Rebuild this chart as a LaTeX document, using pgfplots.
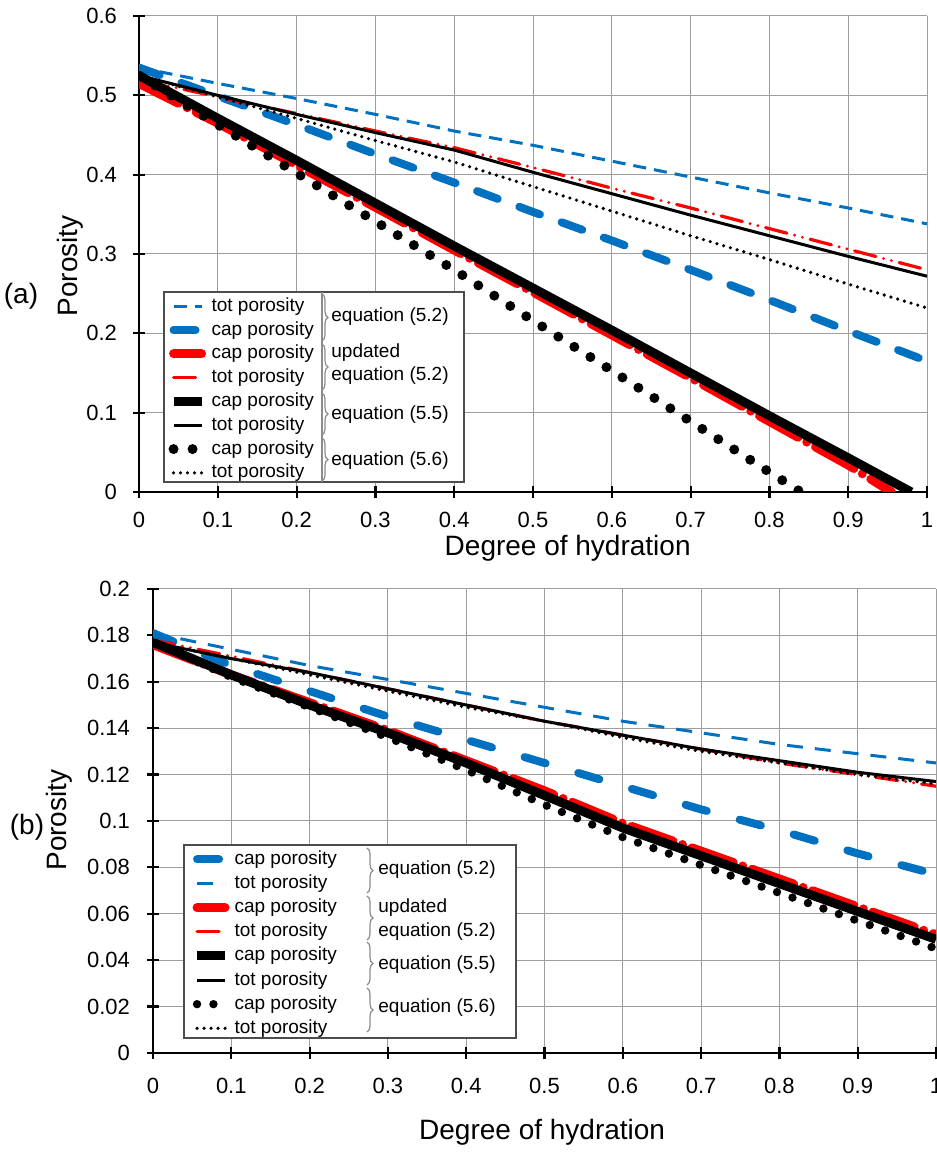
\documentclass[border=0pt]{standalone}
\usepackage{fontspec}
\setmainfont{Liberation Sans}
\usepackage{pgfplots}
\pgfplotsset{compat=1.18}
\usetikzlibrary{decorations.pathreplacing}
\definecolor{xblue}{RGB}{0,112,192}
\definecolor{xred}{RGB}{255,0,0}
\pgfplotsset{
 myaxis/.style={
  scale only axis, xmin=0, xmax=1, axis x line*=bottom, axis y line*=left,
  xtick={0,0.1,0.2,0.3,0.4,0.5,0.6,0.7,0.8,0.9,1},
  grid=major, grid style={line width=0.5pt, color=black!38},
  tick align=center, major tick length=6pt,
  tick style={black, line width=1.1pt},
  axis line style={line width=1.1pt},
  ticklabel style={font=\fontsize{11}{13}\selectfont},
  /pgf/number format/assume math mode=true,
  /pgf/number format/fixed, /pgf/number format/precision=2,
  scaled ticks=false,
  label style={font=\fontsize{14}{16}\selectfont},
  legend image code/.code={\draw[##1] (0pt,0pt) -- (14pt,0pt);},
  legend cell align=left,
  legend style={draw=none, fill=none, inner sep=0pt, anchor=north west,
    font=\fontsize{9.5}{11}\selectfont, row sep=0pt,
    nodes={text height=7.5pt, text depth=2.5pt, inner ysep=0.95pt, inner xsep=2.5pt}},
 },
 totA/.style={xblue, line width=1.5pt, dash pattern=on 6.5pt off 4pt},
 capA/.style={xblue, line width=4pt, line cap=round, dash pattern=on 11pt off 11.5pt},
 capU/.style={xred, line width=4.5pt, line cap=round, dash pattern=on 22pt off 5pt on 0pt off 5pt},
 totU/.style={xred, line width=1.6pt, line cap=round, dash pattern=on 11pt off 4pt on 0pt off 4pt on 0pt off 4pt},
 capB/.style={black, line width=4.5pt},
 totB/.style={black, line width=1.5pt},
 capC/.style={black, line width=5pt, line cap=round, dash pattern=on 0pt off 9.5pt},
 totC/.style={black, line width=1.8pt, line cap=round, dash pattern=on 0pt off 3.5pt},
}
\begin{document}
\begin{tikzpicture}
% ---------------- (a) ----------------
\begin{axis}[myaxis, at={(69.5pt,331pt)}, anchor=south west,
  width=394pt, height=238pt, ymin=0, ymax=0.6,
  ytick={0,0.1,0.2,0.3,0.4,0.5,0.6},
  xticklabel style={yshift=-3.5pt}, yticklabel style={xshift=-4.5pt},
  xlabel={Degree of hydration}, ylabel={Porosity},
  xlabel style={at={(axis description cs:0.544,-0.118)}, anchor=center},
  ylabel style={at={(axis description cs:-0.087,0.475)}, anchor=center},
  legend style={at={(0.037,0.416)}}]
\fill[white] (rel axis cs:0.0317,0.021) rectangle (rel axis cs:0.4124,0.420);
\draw[black!70, line width=0.6pt] (rel axis cs:0.0317,0.021) rectangle (rel axis cs:0.4124,0.420);
\draw[black!45, line width=0.6pt] (rel axis cs:0.2322,0.021) -- (rel axis cs:0.2322,0.420);
\addplot[totA] coordinates {(0,0.535)(0.1,0.515)(0.2,0.496)(0.3,0.476)(0.4,0.455)(0.5,0.437)(0.6,0.417)(0.7,0.397)(0.8,0.377)(0.9,0.358)(1,0.338)};
\addlegendentry{tot porosity}
\addplot[capA] coordinates {(0,0.535)(0.1,0.499)(0.2,0.463)(0.3,0.426)(0.4,0.390)(0.5,0.353)(0.6,0.317)(0.7,0.280)(0.8,0.242)(0.9,0.203)(1,0.165)};
\addlegendentry{cap porosity}
\addplot[capU] coordinates {(0,0.515)(0.1,0.465)(0.2,0.412)(0.3,0.359)(0.4,0.305)(0.5,0.252)(0.6,0.198)(0.7,0.144)(0.8,0.089)(0.9,0.034)(0.955,0)};
\addlegendentry{cap porosity}
\addplot[totU] coordinates {(0,0.520)(0.1,0.498)(0.2,0.477)(0.3,0.455)(0.4,0.434)(0.5,0.409)(0.6,0.383)(0.7,0.358)(0.8,0.332)(0.9,0.306)(1,0.280)};
\addlegendentry{tot porosity}
\addplot[capB] coordinates {(0,0.525)(0.1,0.471)(0.2,0.418)(0.3,0.364)(0.4,0.310)(0.5,0.257)(0.6,0.204)(0.7,0.150)(0.8,0.096)(0.9,0.043)(0.98,0)};
\addlegendentry{cap porosity}
\addplot[totB] coordinates {(0,0.525)(0.1,0.500)(0.2,0.476)(0.3,0.453)(0.4,0.431)(0.5,0.403)(0.6,0.376)(0.7,0.349)(0.8,0.323)(0.9,0.297)(1,0.272)};
\addlegendentry{tot porosity}
\addplot[capC] coordinates {(0,0.525)(0.1,0.463)(0.2,0.402)(0.3,0.341)(0.4,0.280)(0.5,0.216)(0.6,0.153)(0.7,0.089)(0.8,0.025)(0.84,0)};
\addlegendentry{cap porosity}
\addplot[totC] coordinates {(0,0.525)(0.1,0.498)(0.2,0.471)(0.3,0.443)(0.4,0.416)(0.5,0.385)(0.6,0.354)(0.7,0.323)(0.8,0.293)(0.9,0.262)(1,0.232)};
\addlegendentry{tot porosity}
\end{axis}
% ---------------- (b) ----------------
\begin{axis}[myaxis, at={(76.5pt,50.5pt)}, anchor=south west,
  width=391.5pt, height=232pt, ymin=0, ymax=0.2,
  ytick={0,0.02,0.04,0.06,0.08,0.1,0.12,0.14,0.16,0.18,0.2},
  xticklabel style={yshift=-6pt}, yticklabel style={xshift=-5pt},
  xlabel={Degree of hydration}, ylabel={Porosity},
  xlabel style={at={(axis description cs:0.497,-0.17)}, anchor=center},
  ylabel style={at={(axis description cs:-0.12,0.502)}, anchor=center},
  legend style={at={(0.05,0.444)}, nodes={text height=7.6pt, text depth=2.6pt, inner ysep=0.93pt}}]
\fill[white] (rel axis cs:0.0396,0.0323) rectangle (rel axis cs:0.4636,0.4483);
\draw[black!70, line width=0.6pt] (rel axis cs:0.0396,0.0323) rectangle (rel axis cs:0.4636,0.4483);
\addplot[capA, dash pattern=on 11pt off 17pt] coordinates {(0,0.181)(0.1,0.167)(0.2,0.156)(0.3,0.145)(0.4,0.135)(0.5,0.125)(0.6,0.115)(0.7,0.105)(0.8,0.096)(0.9,0.086)(1,0.077)};
\addlegendentry{cap porosity}
\addplot[totA, dash pattern=on 8pt off 6pt] coordinates {(0,0.181)(0.1,0.174)(0.2,0.167)(0.3,0.161)(0.4,0.155)(0.5,0.149)(0.6,0.143)(0.7,0.138)(0.8,0.133)(0.9,0.129)(1,0.125)};
\addlegendentry{tot porosity}
\addplot[capU] coordinates {(0,0.176)(0.1,0.163)(0.2,0.151)(0.3,0.139)(0.4,0.126)(0.5,0.113)(0.6,0.099)(0.7,0.087)(0.8,0.075)(0.9,0.063)(1,0.051)};
\addlegendentry{cap porosity}
\addplot[totU] coordinates {(0,0.178)(0.1,0.171)(0.2,0.164)(0.3,0.157)(0.4,0.150)(0.5,0.143)(0.6,0.137)(0.7,0.131)(0.8,0.125)(0.9,0.120)(1,0.115)};
\addlegendentry{tot porosity}
\addplot[capB] coordinates {(0,0.177)(0.1,0.163)(0.2,0.150)(0.3,0.138)(0.4,0.125)(0.5,0.111)(0.6,0.097)(0.7,0.085)(0.8,0.073)(0.9,0.061)(1,0.049)};
\addlegendentry{cap porosity}
\addplot[totB] coordinates {(0,0.177)(0.1,0.170)(0.2,0.164)(0.3,0.157)(0.4,0.150)(0.5,0.143)(0.6,0.137)(0.7,0.131)(0.8,0.126)(0.9,0.121)(1,0.117)};
\addlegendentry{tot porosity}
\addplot[capC, line width=4.2pt, dash pattern=on 0pt off 8.2pt] coordinates {(0,0.177)(0.1,0.162)(0.2,0.149)(0.3,0.136)(0.4,0.122)(0.5,0.107)(0.6,0.093)(0.7,0.081)(0.8,0.069)(0.9,0.057)(1,0.045)};
\addlegendentry{cap porosity}
\addplot[totC] coordinates {(0,0.177)(0.1,0.170)(0.2,0.163)(0.3,0.156)(0.4,0.149)(0.5,0.143)(0.6,0.136)(0.7,0.130)(0.8,0.125)(0.9,0.120)(1,0.116)};
\addlegendentry{tot porosity}
\end{axis}
% ---------------- annotations (pixel coordinates) ----------------
\begin{scope}[x=0.5pt, y=-0.5pt, shift={(0pt,577pt)}]
\node[font=\fontsize{14}{16}\selectfont] at (21,296) {(a)};
\node[font=\fontsize{14}{16}\selectfont] at (27,827) {(b)};
\tikzset{br/.style={draw=black!45, line width=0.6pt, decorate, decoration={brace, amplitude=3pt}},
  eq/.style={anchor=west, font=\fontsize{9.5}{11}\selectfont, inner sep=0pt}}
% top
\draw[br] (322,294) -- (322,341);
\draw[br] (322,344) -- (322,390);
\draw[br] (322,393) -- (322,435);
\draw[br] (322,438) -- (322,481);
\node[eq] at (331,317) {equation (5.2)};
\node[eq] at (331,353) {updated};
\node[eq] at (331,376) {equation (5.2)};
\node[eq] at (331,415) {equation (5.5)};
\node[eq] at (331,461) {equation (5.6)};
% bottom
\draw[br] (367,848) -- (367,893);
\draw[br] (367,896) -- (367,940);
\draw[br] (367,942) -- (367,985);
\draw[br] (367,988) -- (367,1032);
\node[eq] at (378,870) {equation (5.2)};
\node[eq] at (378,908) {updated};
\node[eq] at (378,932) {equation (5.2)};
\node[eq] at (378,965) {equation (5.5)};
\node[eq] at (378,1008) {equation (5.6)};
\end{scope}
\pgfresetboundingbox
\useasboundingbox (0pt,0pt) rectangle (468pt,577pt);
\end{tikzpicture}
\end{document}
